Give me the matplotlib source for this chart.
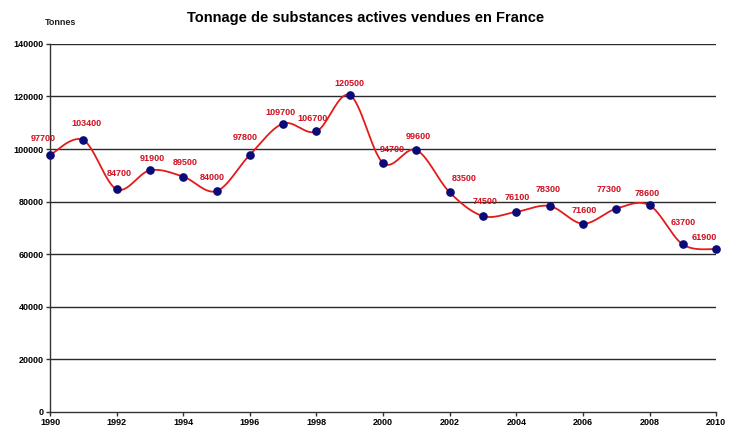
import numpy as np
import matplotlib
matplotlib.use("Agg")
import matplotlib.pyplot as plt

years = [1990, 1991, 1992, 1993, 1994, 1995, 1996, 1997, 1998, 1999, 2000,
         2001, 2002, 2003, 2004, 2005, 2006, 2007, 2008, 2009, 2010]
tonnes = [97700, 103400, 84700, 91900, 89500, 84000, 97800, 109700, 106700, 120500, 94700,
          99600, 83500, 74500, 76100, 78300, 71600, 77300, 78600, 63700, 61900]
x_ticks = list(range(1990, 2011, 2))
y_ticks = list(range(0, 140001, 20000))
title = "Tonnage de substances actives vendues en France"
y_unit = "Tonnes"

# label placement (pixels, relative to the marker centre)
label_dx = [-7, 3, 3, 2, 2, -4, -5, -3, -4, 0, 9, 2, 15, 2, 1, -1, 1, -7, -2, 0, -12]
label_dy = [17, 17, 16, 12, 14, 14, 17, 11, 13, 12, 13, 14, 14, 15, 14, 17, 13, 19, 12, 22, 12]

plt.rcParams['font.family'] = ['Liberation Sans', 'DejaVu Sans']

fig = plt.figure(figsize=(7.32, 4.30), dpi=100)
ax = fig.add_axes([0.0683, 0.042, 0.910, 0.856])

# Excel-like smoothing (Catmull-Rom as cubic Bezier)
x = np.array(years, dtype=float)
y = np.array(tonnes, dtype=float)
n = len(x)
xs, ys = [], []
t = np.linspace(0, 1, 30)
for i in range(n - 1):
    p0 = np.array([x[i], y[i]])
    p3 = np.array([x[i + 1], y[i + 1]])
    pm = np.array([x[max(i - 1, 0)], y[max(i - 1, 0)]])
    pp = np.array([x[min(i + 2, n - 1)], y[min(i + 2, n - 1)]])
    c1 = p0 + (p3 - pm) / 6.0
    c2 = p3 - (pp - p0) / 6.0
    b = ((1 - t) ** 3)[:, None] * p0 + (3 * (1 - t) ** 2 * t)[:, None] * c1 + \
        (3 * (1 - t) * t ** 2)[:, None] * c2 + (t ** 3)[:, None] * p3
    xs.extend(b[:, 0]); ys.extend(b[:, 1])

for yt in y_ticks[1:]:
    ax.axhline(yt, color='#2a2a2a', lw=1.0, zorder=1)

ax.plot(xs, ys, color='#e31b1b', lw=1.3, zorder=2, clip_on=False)
ax.plot(years, tonnes, 'o', color='#0a0a78', ms=5.2, zorder=3, clip_on=False)

for yr, v, dx, dy in zip(years, tonnes, label_dx, label_dy):
    ax.annotate(f"{v}", (yr, v), xytext=(dx, dy), textcoords='offset pixels',
                ha='center', va='center', color='#d01020', fontsize=6.5,
                fontweight='bold', zorder=4)

ax.set_xlim(1990, 2010)
ax.set_ylim(0, 140000)
ax.set_xticks(x_ticks)
ax.set_yticks(y_ticks)
ax.set_xticklabels([str(v) for v in x_ticks], fontsize=6.5, fontweight='bold')
ax.set_yticklabels([str(v) for v in y_ticks], fontsize=6.5, fontweight='bold')
ax.tick_params(axis='both', direction='out', length=3, width=1, pad=1.5, color='#333333')
for s in ['top', 'right']:
    ax.spines[s].set_visible(False)
for s in ['left', 'bottom']:
    ax.spines[s].set_color('#333333')
    ax.spines[s].set_linewidth(1.0)

fig.text(0.5, 0.958, title, ha='center', va='center', fontsize=10.5, fontweight='bold')
fig.text(0.061, 0.948, y_unit, ha='left', va='center', fontsize=6.5, fontweight='bold', color='#222222')

fig.savefig("out.png", dpi=100)
